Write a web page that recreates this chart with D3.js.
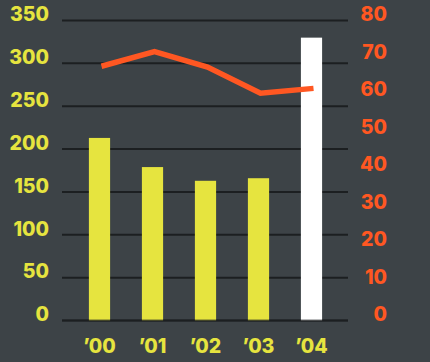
<!DOCTYPE html>
<html>
<head>
<meta charset="utf-8">
<script src="https://cdn.jsdelivr.net/npm/d3@7/dist/d3.min.js"></script>
<style>
  html, body { margin: 0; padding: 0; background: #3d4347; }
  svg { display: block; }
  text { font-family: Inter, "Liberation Sans", Arial, sans-serif; font-weight: 800; }
</style>
</head>
<body>
<svg id="chart" width="430" height="362"></svg>
<script>
// Years on the x axis
const years = ["\u201900", "\u201901", "\u201902", "\u201903", "\u201904"];
// Bar series (left axis)
const barValues = [213, 179, 163, 166, 330];
// Line series (right axis)
const lineValues = [67.8, 71.7, 67.6, 60.6, 61.9];
// Axis tick values
const leftTicks = [0, 50, 100, 150, 200, 250, 300, 350];
const rightTicks = [0, 10, 20, 30, 40, 50, 60, 70, 80];

const W = 430, H = 362;
const plot = { left: 62, right: 348, top: 20.5, bottom: 320.5 };
const labelFont = "19.5px";

const colors = {
  bg: "#3d4347",
  grid: "#1c1f21",
  yellow: "#e6e43f",
  white: "#ffffff",
  orange: "#ff5722"
};

const svg = d3.select("#chart");
svg.append("rect").attr("width", W).attr("height", H).attr("fill", colors.bg);

const x = d3.scaleBand().domain(years).range([73, 338])
  .paddingInner(0.6).paddingOuter(0.3);
const yL = d3.scaleLinear().domain([0, 350]).range([plot.bottom, plot.top]);
const yR = d3.scaleLinear().domain([0, 80]).range([plot.bottom, plot.top]);

function styleLabels(g, fill) {
  g.select(".domain").remove();
  g.selectAll("text")
    .attr("fill", fill)
    .style("font-size", labelFont)
    .style("font-family", "Inter, 'Liberation Sans', Arial, sans-serif")
    .style("font-weight", 800);
}

// Horizontal gridlines
svg.append("g")
  .selectAll("line")
  .data(leftTicks)
  .join("line")
  .attr("x1", plot.left).attr("x2", plot.right)
  .attr("y1", d => yL(d)).attr("y2", d => yL(d))
  .attr("stroke", colors.grid)
  .attr("stroke-width", 2);

// Left axis labels
const gl = svg.append("g").attr("transform", "translate(49,-6)")
  .call(d3.axisLeft(yL).tickValues(leftTicks).tickSize(0).tickPadding(0));
styleLabels(gl, colors.yellow);

// Right axis labels
const gr = svg.append("g").attr("transform", "translate(387,-6)")
  .call(d3.axisLeft(yR).tickValues(rightTicks).tickSize(0).tickPadding(0));
styleLabels(gr, colors.orange);

// Bars: the last year is highlighted in white
svg.append("g")
  .selectAll("rect")
  .data(barValues)
  .join("rect")
  .attr("x", (d, i) => x(years[i]))
  .attr("width", x.bandwidth())
  .attr("y", d => yL(d))
  .attr("height", d => yL(0) - yL(d))
  .attr("fill", (d, i) => i === years.length - 1 ? colors.white : colors.yellow);

// Baseline drawn over the bar bottoms
svg.append("line")
  .attr("x1", plot.left).attr("x2", plot.right)
  .attr("y1", yL(0)).attr("y2", yL(0))
  .attr("stroke", colors.grid)
  .attr("stroke-opacity", 0.6)
  .attr("stroke-width", 2);

// Line series on the right axis
const line = d3.line()
  .x((d, i) => x(years[i]) + x.bandwidth() / 2 + 2)
  .y(d => yR(d));
svg.append("path")
  .datum(lineValues)
  .attr("d", line)
  .attr("fill", "none")
  .attr("stroke", colors.orange)
  .attr("stroke-width", 5.5)
  .attr("stroke-linejoin", "miter");

// X axis labels
const gx = svg.append("g").attr("transform", "translate(0,338)")
  .call(d3.axisBottom(x).tickSize(0).tickPadding(0));
styleLabels(gx, colors.yellow);
gx.selectAll("text").attr("dy", "0.75em");
</script>
</body>
</html>
